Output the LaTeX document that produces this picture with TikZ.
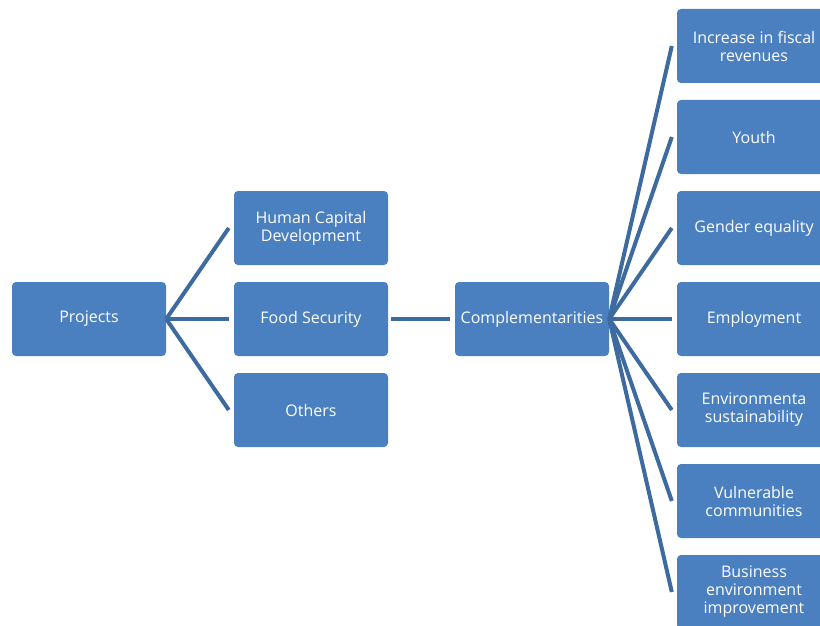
\documentclass[tikz,border=0pt]{standalone}
\usepackage{fontspec}
\setmainfont{Open Sans}
\definecolor{boxblue}{HTML}{4A80BF}
\definecolor{linkblue}{HTML}{3E6B9F}
\begin{document}
\begin{tikzpicture}[x=1pt,y=-1pt,
  box/.style={fill=boxblue, rounded corners=4pt, minimum width=154pt, minimum height=74pt,
    inner sep=0pt, text=white, align=center, font=\fontsize{16}{18}\selectfont, anchor=center},
  link/.style={draw=linkblue, line width=4pt}]
\useasboundingbox (0,0) rectangle (820,626);
\clip (0,0) rectangle (820,626);
\node[box] (proj) at (89,319) {Projects};
\node[box] (hcd) at (311,228) {Human Capital\\Development};
\node[box] (food) at (311,319) {Food Security};
\node[box] (oth) at (311,410) {Others};
\node[box] (comp) at (532,319) {Complementarities};
\node[box] (r1) at (754,46) {Increase in fiscal\\revenues};
\node[box] (r2) at (754,137) {Youth};
\node[box] (r3) at (754,228) {Gender equality};
\node[box] (r4) at (754,319) {Employment};
\node[box] (r5) at (754,410) {Environmenta\\sustainability};
\node[box] (r6) at (754,501) {Vulnerable\\communities};
\node[box] (r7) at (754,592) {Business\\environment\\improvement};
\foreach \t in {hcd,food,oth}
  \draw[link] (proj.east) -- ([xshift=-5pt]\t.west);
\draw[link] ([xshift=3pt]food.east) -- ([xshift=-5pt]comp.west);
\foreach \t in {r1,r2,r3,r4,r5,r6,r7}
  \draw[link] (comp.east) -- ([xshift=-5pt]\t.west);
\end{tikzpicture}
\end{document}
